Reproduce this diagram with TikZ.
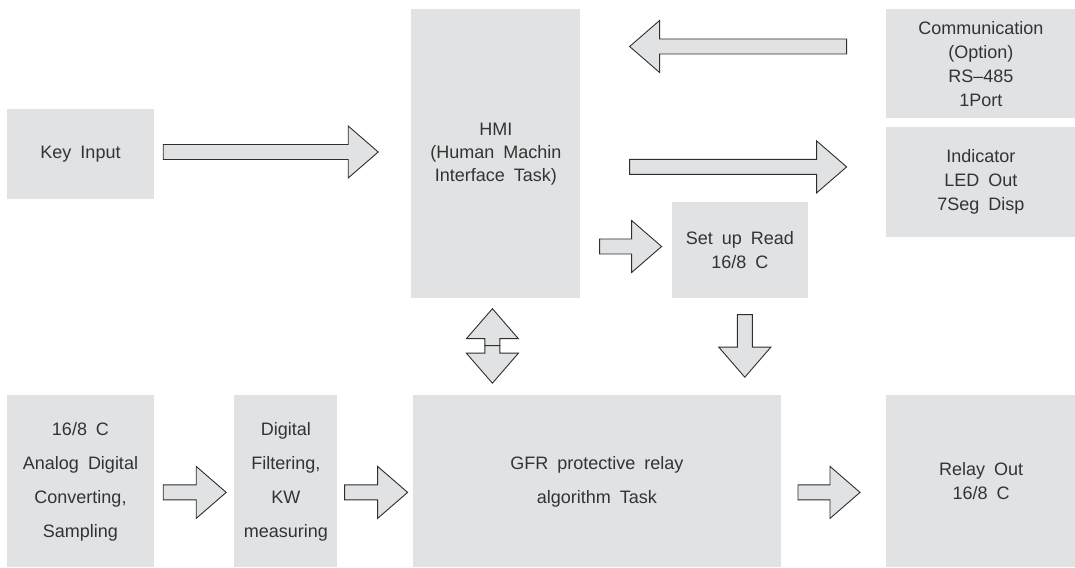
\documentclass[tikz,border=0pt]{standalone}
\usepackage{fontspec}
\setmainfont{Liberation Sans}
\usetikzlibrary{positioning,calc}

\definecolor{boxgray}{HTML}{E1E2E4}
\definecolor{arrowline}{HTML}{2E2E2E}
\definecolor{txt}{HTML}{333333}

\newcommand{\boxfont}[1]{\fontsize{18}{#1}\selectfont\spaceskip=9pt plus 1pt\relax}

\begin{document}
\begin{tikzpicture}[x=1pt,y=1pt,
    block/.style={fill=boxgray,inner sep=0pt,align=center,text=txt,
                  font=\boxfont{24}},
    tall/.style={font=\boxfont{34}},
    fat/.style={draw=arrowline,fill=boxgray,line width=0.9pt,line join=miter,
      to path={($(\tikztostart)!7.5pt!90:(\tikztotarget)$)
        -- ($(\tikztotarget)!30pt!(\tikztostart)!7.5pt!90:(\tikztotarget)$)
        -- ($(\tikztotarget)!30pt!(\tikztostart)!26pt!90:(\tikztotarget)$)
        -- (\tikztotarget)
        -- ($(\tikztotarget)!30pt!(\tikztostart)!26pt!-90:(\tikztotarget)$)
        -- ($(\tikztotarget)!30pt!(\tikztostart)!7.5pt!-90:(\tikztotarget)$)
        -- ($(\tikztostart)!7.5pt!-90:(\tikztotarget)$) -- cycle}}]
    \useasboundingbox (0,0) rectangle (1075,567);

    \node[block,minimum width=147pt,minimum height=90pt] (key) at (80.5,413) {Key Input};
    \node[block,minimum width=169pt,minimum height=289pt,font=\boxfont{23},
          right=257pt of key] (hmi) {HMI\\(Human Machin\\Interface Task)};
    \node[block,minimum width=190pt,minimum height=109pt,anchor=north west]
          (comm) at ([xshift=305pt]hmi.north east) {Communication\\(Option)\\RS–485\\1Port};
    \node[block,minimum width=190pt,minimum height=110pt,below=8pt of comm] (ind) {Indicator\\LED Out\\7Seg Disp};
    \node[block,minimum width=136pt,minimum height=96pt,anchor=south west]
          (setup) at ([xshift=91pt]hmi.south east) {Set up Read\\16/8 C};
    \node[block,tall,minimum width=147pt,minimum height=172pt,below=196pt of key] (adc) {16/8 C\\Analog Digital\\Converting,\\Sampling};
    \node[block,tall,minimum width=103pt,minimum height=172pt,right=80pt of adc] (filt) {Digital\\Filtering,\\KW\\measuring};
    \node[block,tall,minimum width=368pt,minimum height=172pt,right=75pt of filt] (gfr) {GFR protective relay\\algorithm Task};
    \node[block,minimum width=190pt,minimum height=172pt,right=105pt of gfr] (relay) {Relay Out\\16/8 C};

    % arrow ends
    \coordinate (a1s) at ($(key.east)+(9,2)$);
    \coordinate (a1e) at ($(hmi.west |- a1s)+(-33,0)$);
    \coordinate (a2s) at ($(comm.west)+(-39,17.5)$);
    \coordinate (a2e) at ($(hmi.east |- a2s)+(49,0)$);
    \coordinate (a3s) at ($(hmi.east |- ind.west)+(49,15)$);
    \coordinate (a3e) at ($(ind.west)+(-39,15)$);
    \coordinate (a4s) at ($(hmi.east |- setup.west)+(19,4)$);
    \coordinate (a4e) at ($(setup.west)+(-10,4)$);
    \coordinate (a5s) at ($(setup.south)+(5,-16)$);
    \coordinate (a5e) at ($(a5s |- gfr.north)+(0,18)$);
    \coordinate (mid) at ($(hmi.south)+(-3.5,-47)$);
    \coordinate (a6u) at ($(mid |- hmi.south)+(0,-10)$);
    \coordinate (a6d) at ($(mid |- gfr.north)+(0,12)$);
    \coordinate (a7s) at ($(adc.east)+(9,-11)$);
    \coordinate (a7e) at ($(filt.west)+(-8,-11)$);
    \coordinate (a8s) at ($(filt.east)+(7,-11)$);
    \coordinate (a8e) at ($(gfr.west)+(-5,-11)$);
    \coordinate (a9s) at ($(gfr.east)+(17,-11)$);
    \coordinate (a9e) at ($(relay.west)+(-26,-11)$);

    \path (a1s) edge[fat] (a1e)
          (a2s) edge[fat] (a2e)
          (a3s) edge[fat] (a3e)
          (a4s) edge[fat] (a4e)
          (a5s) edge[fat] (a5e)
          (mid) edge[fat] (a6u)
          (mid) edge[fat] (a6d)
          (a7s) edge[fat] (a7e)
          (a8s) edge[fat] (a8e)
          (a9s) edge[fat] (a9e);
\end{tikzpicture}
\end{document}
